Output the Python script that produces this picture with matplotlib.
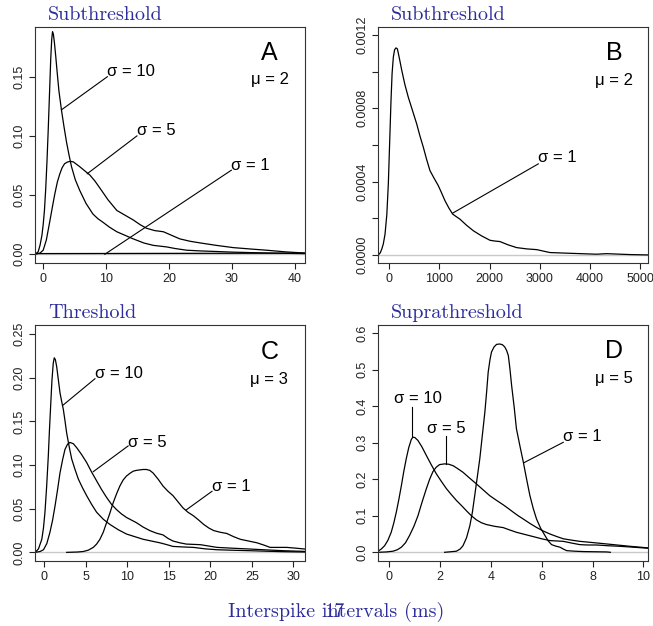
import matplotlib
matplotlib.use("Agg")
import matplotlib.pyplot as plt

# panel A (subthreshold, mu = 2)
a10_x = [-1.3, -0.8, -0.5, -0.2, 0.0, 0.2, 0.4, 0.6, 0.8, 1.0, 1.2, 1.35, 1.48, 1.62, 1.8, 2.0, 2.2, 2.5, 2.9, 3.3, 3.7,
         4.1, 4.5, 5.1, 5.8, 6.8, 7.9, 8.7, 9.5, 10.5, 11.7, 13.0, 14.3, 16.0, 17.5, 19.6, 21.0, 22.8, 25.0, 27.6, 30.0,
         32.9, 36.0, 40.8, 42.0]
a10_y = [0.0, 0.002, 0.0076, 0.016, 0.025, 0.037, 0.055, 0.078, 0.105, 0.135, 0.165, 0.181, 0.188, 0.186, 0.178, 0.167,
         0.155, 0.138, 0.122, 0.108, 0.095, 0.084, 0.074, 0.063, 0.054, 0.043, 0.034, 0.030, 0.027, 0.023, 0.019, 0.016,
         0.013, 0.0095, 0.0075, 0.0062, 0.0048, 0.0034, 0.0028, 0.0023, 0.0018, 0.0014, 0.001, 0.0006, 0.0005]
a5_x = [-1.3, -0.5, 0.0, 0.5, 1.06, 1.5, 1.85, 2.25, 2.65, 3.0, 3.4, 3.9, 4.35, 4.8, 5.3, 5.8, 6.6, 7.4, 8.2, 9.0, 10.3,
        11.7, 13.0, 14.3, 15.4, 16.4, 17.7, 19.1, 20.4, 21.7, 23.3, 24.9, 27.5, 30.2, 33.0, 35.5, 38.5, 41.3, 42.0]
a5_y = [0.0, 0.001, 0.0034, 0.012, 0.028, 0.041, 0.051, 0.061, 0.068, 0.073, 0.0765, 0.078, 0.0785, 0.078, 0.076, 0.074,
        0.0705, 0.067, 0.062, 0.056, 0.046, 0.037, 0.033, 0.029, 0.025, 0.022, 0.020, 0.019, 0.016, 0.013, 0.011, 0.0096,
        0.0075, 0.0056, 0.0044, 0.0034, 0.002, 0.0011, 0.001]

# panel B (subthreshold, sigma = 1)
b1_x = [-219, -180, -153, -120, -86, -50, -20, 5, 33, 55, 80, 105, 133, 160, 180, 210, 246, 310, 379, 460, 545, 610, 678,
        745, 811, 890, 977, 1040, 1110, 1190, 1263, 1330, 1410, 1540, 1676, 1840, 2008, 2100, 2207, 2370, 2540, 2740,
        2939, 3205, 3604, 4136, 4335, 4800, 5166]
b1_y = [0.0, 0.000012, 0.00003, 0.00006, 0.000113, 0.00022, 0.000387, 0.0006, 0.00084, 0.00099, 0.00108, 0.00112,
        0.00113, 0.001125, 0.0011, 0.00106, 0.00101, 0.00093, 0.00086, 0.00079, 0.000716, 0.00065, 0.000588, 0.00052,
        0.00046, 0.00042, 0.000378, 0.00034, 0.000296, 0.000255, 0.000223, 0.00021, 0.000195, 0.000162, 0.000132,
        0.000104, 0.00008, 0.000076, 0.000073, 0.000055, 0.00004, 0.000033, 0.000029, 0.000013, 0.000009, 0.000004,
        0.000007, 0.000002, 0.0]

# panel C (threshold, mu = 3)
c10_x = [-1.1, -0.7, -0.3, -0.1, 0.08, 0.28, 0.48, 0.62, 0.76, 0.92, 1.08, 1.2, 1.33, 1.49, 1.69, 1.89, 2.09, 2.29, 2.49,
         2.69, 3.0, 3.3, 3.7, 4.1, 4.6, 5.1, 5.7, 6.3, 7.1, 7.9, 8.9, 9.9, 10.9, 11.9, 12.9, 13.9, 14.7, 15.5, 16.7,
         17.95, 19.4, 20.8, 22.8, 24.8, 26.8, 28.8, 31.4]
c10_y = [0.0, 0.004, 0.015, 0.028, 0.046, 0.075, 0.11, 0.14, 0.167, 0.197, 0.217, 0.223, 0.221, 0.213, 0.198, 0.183,
         0.173, 0.164, 0.151, 0.137, 0.121, 0.107, 0.095, 0.084, 0.074, 0.065, 0.055, 0.046, 0.038, 0.032, 0.026, 0.021,
         0.018, 0.015, 0.013, 0.011, 0.009, 0.0068, 0.0062, 0.0057, 0.004, 0.003, 0.0024, 0.0019, 0.0013, 0.0008, 0.0004]
c5_x = [-1.1, -0.5, -0.1, 0.3, 0.68, 1.0, 1.29, 1.6, 1.89, 2.2, 2.49, 2.8, 3.09, 3.5, 3.9, 4.5, 5.1, 5.7, 6.3, 6.9, 7.5,
        8.1, 8.7, 9.3, 9.9, 10.5, 11.1, 11.9, 12.7, 13.5, 14.3, 14.9, 15.5, 16.3, 17.1, 18.8, 20.8, 22.8, 24.8, 26.8,
        28.8, 31.4]
c5_y = [0.0, 0.001, 0.003, 0.01, 0.023, 0.037, 0.053, 0.072, 0.091, 0.106, 0.118, 0.124, 0.126, 0.1245, 0.12, 0.112,
        0.103, 0.092, 0.082, 0.072, 0.063, 0.055, 0.049, 0.044, 0.04, 0.037, 0.034, 0.029, 0.025, 0.022, 0.02, 0.016,
        0.013, 0.011, 0.0095, 0.0088, 0.0057, 0.0047, 0.0038, 0.0028, 0.0019, 0.0011]
c1_x = [2.7, 4.0, 4.7, 5.3, 5.9, 6.3, 6.7, 7.1, 7.5, 7.9, 8.3, 8.7, 9.1, 9.5, 9.9, 10.3, 10.7, 11.1, 11.5, 11.9, 12.3,
        12.7, 13.1, 13.7, 14.3, 14.9, 15.5, 16.1, 16.7, 17.3, 17.95, 18.6, 19.2, 19.8, 20.4, 21.2, 21.97, 22.8, 23.6,
        24.6, 25.6, 26.4, 27.2, 28.2, 29.2, 30.3, 31.4]
c1_y = [0.0, 0.0004, 0.001, 0.0025, 0.0057, 0.0095, 0.015, 0.023, 0.034, 0.045, 0.057, 0.067, 0.076, 0.083, 0.0875,
        0.0905, 0.093, 0.094, 0.0945, 0.095, 0.095, 0.094, 0.091, 0.084, 0.076, 0.07, 0.065, 0.058, 0.051, 0.046, 0.042,
        0.037, 0.032, 0.028, 0.025, 0.023, 0.0217, 0.018, 0.015, 0.013, 0.011, 0.0085, 0.0057, 0.0057, 0.0057, 0.0048,
        0.0038]

# panel D (suprathreshold, mu = 5)
d10_x = [-0.43, -0.3, -0.17, -0.04, 0.09, 0.19, 0.29, 0.39, 0.49, 0.58, 0.68, 0.78, 0.88, 0.94, 1.02, 1.14, 1.3, 1.47,
         1.66, 1.86, 2.06, 2.26, 2.45, 2.65, 2.85, 3.04, 3.24, 3.44, 3.63, 3.83, 4.16, 4.49, 4.75, 5.0, 5.33, 5.67, 6.0,
         6.33, 6.6, 6.85, 7.2, 7.5, 7.8, 8.16, 8.6, 9.08, 9.6, 10.2]
d10_y = [0.003, 0.009, 0.018, 0.033, 0.055, 0.08, 0.11, 0.145, 0.183, 0.22, 0.256, 0.287, 0.309, 0.315, 0.314, 0.306,
         0.288, 0.265, 0.24, 0.215, 0.194, 0.174, 0.158, 0.142, 0.128, 0.114, 0.1, 0.0886, 0.081, 0.076, 0.071, 0.0676,
         0.061, 0.055, 0.049, 0.043, 0.037, 0.032, 0.031, 0.03, 0.025, 0.021, 0.02, 0.02, 0.018, 0.0164, 0.014, 0.011]
d5_x = [-0.43, -0.1, 0.16, 0.33, 0.49, 0.65, 0.81, 0.98, 1.14, 1.3, 1.47, 1.6, 1.73, 1.86, 1.99, 2.19, 2.35, 2.52, 2.7,
        2.91, 3.17, 3.44, 3.7, 3.96, 4.23, 4.49, 4.69, 4.88, 5.08, 5.28, 5.54, 5.8, 6.07, 6.33, 6.6, 6.85, 7.2, 7.5,
        8.16, 8.82, 9.48, 10.2]
d5_y = [0.0, 0.001, 0.003, 0.007, 0.014, 0.026, 0.046, 0.071, 0.1, 0.137, 0.174, 0.2, 0.221, 0.233, 0.24, 0.242, 0.241,
        0.237, 0.229, 0.219, 0.203, 0.187, 0.171, 0.155, 0.142, 0.13, 0.12, 0.11, 0.1, 0.091, 0.079, 0.068, 0.058, 0.05,
        0.043, 0.037, 0.033, 0.03, 0.0256, 0.021, 0.0164, 0.012]
d1_x = [2.19, 2.65, 2.8, 2.91, 3.05, 3.18, 3.28, 3.37, 3.47, 3.57, 3.67, 3.77, 3.84, 3.9, 3.97, 4.03, 4.13, 4.23, 4.36,
        4.46, 4.55, 4.62, 4.69, 4.75, 4.82, 4.92, 5.01, 5.15, 5.28, 5.41, 5.54, 5.67, 5.8, 5.96, 6.13, 6.26, 6.39, 6.55,
        6.72, 6.85, 6.98, 7.3, 7.64, 8.1, 8.56, 8.7]
d1_y = [0.0, 0.003, 0.009, 0.018, 0.04, 0.073, 0.11, 0.155, 0.205, 0.256, 0.32, 0.384, 0.44, 0.493, 0.527, 0.548, 0.562,
        0.569, 0.570, 0.568, 0.562, 0.553, 0.539, 0.505, 0.457, 0.398, 0.338, 0.29, 0.247, 0.2, 0.155, 0.12, 0.091,
        0.066, 0.046, 0.031, 0.021, 0.017, 0.014, 0.009, 0.0046, 0.003, 0.002, 0.0015, 0.001, 0.0]

titles = ["Subthreshold", "Subthreshold", "Threshold", "Suprathreshold"]
letters = ["A", "B", "C", "D"]
mus = [2, 2, 3, 5]
xlims = [(-1.3, 41.6), (-226, 5160), (-1.12, 31.4), (-0.43, 10.18)]
ylims = [(-0.0074, 0.192), (-0.000044, 0.001244), (-0.0099, 0.2606), (-0.0238, 0.622)]
xticks = [[0, 10, 20, 30, 40], [0, 1000, 2000, 3000, 4000, 5000], [0, 5, 10, 15, 20, 25, 30], [0, 2, 4, 6, 8, 10]]
yticks = [[0, 0.05, 0.10, 0.15], [0, 0.0002, 0.0004, 0.0006, 0.0008, 0.001, 0.0012],
          [0, 0.05, 0.10, 0.15, 0.20, 0.25], [0, 0.1, 0.2, 0.3, 0.4, 0.5, 0.6]]
ylabels = [["0.00", "0.05", "0.10", "0.15"], ["0.0000", "", "0.0004", "", "0.0008", "", "0.0012"],
           ["0.00", "0.05", "0.10", "0.15", "0.20", "0.25"], ["0.0", "0.1", "0.2", "0.3", "0.4", "0.5", "0.6"]]
letter_pos = [(36.0, 0.170, 0.1475), (4481, 0.0011, 0.000953), (27.1, 0.230, 0.198), (8.85, 0.552, 0.475)]

# (label, point on curve, end of pointer line, text anchor)
labels = [
    [("σ = 10", (2.9, 0.122), (10.2, 0.150), "left"),
     ("σ = 5", (7.0, 0.068), (14.9, 0.100), "left"),
     ("σ = 1", (9.8, 0.0), (29.9, 0.071), "left")],
    [("σ = 1", (1263, 0.000228), (2972, 0.000497), "left")],
    [("σ = 10", (2.29, 0.169), (6.1, 0.199), "left"),
     ("σ = 5", (5.9, 0.0925), (10.1, 0.122), "left"),
     ("σ = 1", (17.1, 0.0487), (20.2, 0.070), "left")],
    [("σ = 10", (0.92, 0.318), (0.92, 0.397), "center"),
     ("σ = 5", (2.26, 0.242), (2.26, 0.318), "center"),
     ("σ = 1", (5.3, 0.245), (6.85, 0.301), "left")],
]
text_pos = [
    [(10.2, 0.1545), (14.9, 0.1045), (29.9, 0.0749)],
    [(2972, 0.00053)],
    [(6.1, 0.2055), (10.1, 0.1256), (20.2, 0.076)],
    [(1.14, 0.42), (2.24, 0.338), (6.85, 0.318)],
]
curves = [[(a10_x, a10_y), (a5_x, a5_y), (b1_x, b1_y)],
          [(b1_x, b1_y)],
          [(c10_x, c10_y), (c5_x, c5_y), (c1_x, c1_y)],
          [(d10_x, d10_y), (d5_x, d5_y), (d1_x, d1_y)]]

plt.rcParams['font.family'] = ['Liberation Sans', 'DejaVu Sans']

fig = plt.figure(figsize=(6.53, 6.26), dpi=100)
blue = "#2c2c9c"
boxes = [(35, 27), (378, 27), (35, 325), (378, 325)]

for i in range(4):
    left, top = boxes[i]
    ax = fig.add_axes([left / 653, 1 - (top + 236) / 626, 270 / 653, 236 / 626])
    ax.axhline(0, color="#c8c8c8", lw=1.0, zorder=1)
    for xs, ys in curves[i]:
        ax.plot(xs, ys, color="black", lw=0.9, zorder=2)
    for (lab, p0, p1, ha), tp in zip(labels[i], text_pos[i]):
        ax.plot([p0[0], p1[0]], [p0[1], p1[1]], color="black", lw=0.8)
        ax.text(tp[0], tp[1], lab, ha=ha, va="center", fontsize=12)
    lx, ly1, ly2 = letter_pos[i]
    ax.text(lx, ly1, letters[i], ha="center", va="center", fontsize=18)
    ax.text(lx, ly2, "μ = %d" % mus[i], ha="center", va="center", fontsize=12)
    ax.set_xlim(xlims[i])
    ax.set_ylim(ylims[i])
    ax.set_xticks(xticks[i])
    ax.set_yticks(yticks[i])
    ax.set_yticklabels(ylabels[i], rotation=90, va="center")
    ax.tick_params(direction="out", length=4, width=0.8, labelsize=9, colors="#222222")
    ax.tick_params(axis="y", pad=3)
    for s in ax.spines.values():
        s.set_linewidth(0.8)
        s.set_color("#333333")
    fig.text((left + 13) / 653, 1 - (top - 12) / 626, titles[i], color=blue, fontsize=14.5,
             family="cmr10", ha="left", va="center")

fig.text(335.7 / 653, 1 - 611.7 / 626, "Interspike intervals (ms)", color=blue, fontsize=14.5,
         family="cmr10", ha="center", va="center")
fig.text(334 / 653, 1 - 611.7 / 626, "17", color=blue, fontsize=14.5, family="cmr10", ha="center", va="center")

plt.savefig("out.png", dpi=100)
